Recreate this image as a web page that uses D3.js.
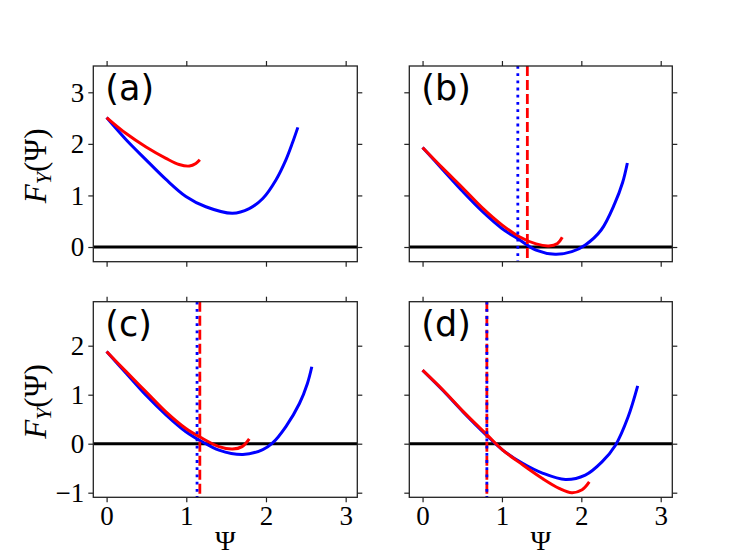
<!DOCTYPE html>
<html>
<head>
<meta charset="utf-8">
<script src="https://cdn.jsdelivr.net/npm/d3@7"></script>
<style>
  body { margin: 0; background: #fff; }
  svg { display: block; }
</style>
</head>
<body>
<div id="chart"></div>
<script>
// values
var xTicks = [0, 1, 2, 3];
var yTicksTop = [0, 1, 2, 3];
var yTicksBottom = [-1, 0, 1, 2];
var panelNames = ["(a)", "(b)", "(c)", "(d)"];

var aBlueX = [0, 0.245, 0.495, 0.745, 0.995, 1.245, 1.58, 1.79, 1.96, 2.125, 2.25, 2.33, 2.40];
var aBlueY = [2.51, 2.08, 1.69, 1.31, 0.98, 0.78, 0.655, 0.745, 0.94, 1.30, 1.69, 2.01, 2.32];
var aRedX = [0, 0.245, 0.495, 0.745, 0.91, 1.04, 1.12, 1.17];
var aRedY = [2.51, 2.20, 1.94, 1.72, 1.60, 1.57, 1.62, 1.69];

var bBlueX = [0, 0.26, 0.51, 0.76, 1.0, 1.22, 1.43, 1.67, 1.88, 2.05, 2.25, 2.42, 2.52, 2.58];
var bBlueY = [1.93, 1.49, 1.07, 0.68, 0.36, 0.14, -0.06, -0.14, -0.09, 0.04, 0.33, 0.84, 1.25, 1.63];
var bRedX = [0, 0.26, 0.51, 0.76, 1.0, 1.22, 1.43, 1.59, 1.70, 1.76];
var bRedY = [1.93, 1.52, 1.14, 0.75, 0.43, 0.20, 0.06, 0.02, 0.07, 0.19];

var cBlueX = [0, 0.245, 0.495, 0.745, 0.995, 1.2, 1.41, 1.71, 1.96, 2.08, 2.25, 2.42, 2.52, 2.575];
var cBlueY = [1.88, 1.44, 0.99, 0.59, 0.245, 0.04, -0.13, -0.22, -0.12, 0.01, 0.35, 0.82, 1.23, 1.57];
var cRedX = [0, 0.245, 0.495, 0.745, 0.995, 1.2, 1.41, 1.58, 1.70, 1.79];
var cRedY = [1.88, 1.47, 1.06, 0.65, 0.31, 0.11, -0.06, -0.11, -0.06, 0.10];

var dBlueX = [0, 0.26, 0.51, 0.80, 1.01, 1.26, 1.51, 1.80, 2.05, 2.26, 2.43, 2.59, 2.71];
var dBlueY = [1.50, 1.08, 0.65, 0.18, -0.13, -0.40, -0.60, -0.73, -0.64, -0.37, -0.03, 0.55, 1.18];
var dRedX = [0, 0.26, 0.51, 0.80, 1.01, 1.26, 1.51, 1.72, 1.88, 2.01, 2.10];
var dRedY = [1.50, 1.09, 0.66, 0.20, -0.13, -0.43, -0.71, -0.91, -1.0, -0.94, -0.78];

// vertical markers: [blue dotted, red dashed], none in (a)
var vBlue = [null, 1.20, 1.135, 0.81];
var vRed = [null, 1.32, 1.17, 0.81];

var W = 747, H = 560;
var svg = d3.select("#chart").append("svg")
  .attr("width", W).attr("height", H);

var cols = [{x0: 93.3, x1: 357.3}, {x0: 409.3, x1: 672.3}];
var rows = [
  {y0: 66, y1: 261.7, dom: [-0.285, 3.51], ticks: yTicksTop},
  {y0: 301.7, y1: 497.3, dom: [-1.094, 2.898], ticks: yTicksBottom}
];

var panels = [
  {blue: [aBlueX, aBlueY], red: [aRedX, aRedY]},
  {blue: [bBlueX, bBlueY], red: [bRedX, bRedY]},
  {blue: [cBlueX, cBlueY], red: [cRedX, cRedY]},
  {blue: [dBlueX, dBlueY], red: [dRedX, dRedY]}
];

var serif = "'Liberation Serif', 'DejaVu Serif', serif";

function pts(arr) {
  return arr[0].map(function(v, i) { return [v, arr[1][i]]; });
}

panels.forEach(function(p, i) {
  var r = rows[Math.floor(i / 2)], c = cols[i % 2];
  var x = d3.scaleLinear().domain([-0.167, 3.146]).range([c.x0, c.x1]);
  var y = d3.scaleLinear().domain(r.dom).range([r.y1, r.y0]);
  var g = svg.append("g");

  var clipId = "clip" + i;
  svg.append("clipPath").attr("id", clipId).append("rect")
    .attr("x", c.x0).attr("y", r.y0)
    .attr("width", c.x1 - c.x0).attr("height", r.y1 - r.y0);

  var plot = g.append("g").attr("clip-path", "url(#" + clipId + ")");

  // zero line
  plot.append("line")
    .attr("x1", c.x0).attr("x2", c.x1)
    .attr("y1", y(0)).attr("y2", y(0))
    .attr("stroke", "#000").attr("stroke-width", 3);

  var line = d3.line()
    .x(function(d) { return x(d[0]); })
    .y(function(d) { return y(d[1]); })
    .curve(d3.curveCatmullRom.alpha(0.5));

  plot.append("path").datum(pts(p.blue))
    .attr("fill", "none").attr("stroke", "#0000ff")
    .attr("stroke-width", 3).attr("d", line);
  plot.append("path").datum(pts(p.red))
    .attr("fill", "none").attr("stroke", "#ff0000")
    .attr("stroke-width", 3).attr("d", line);

  if (vRed[i] !== null) {
    plot.append("line")
      .attr("x1", x(vRed[i])).attr("x2", x(vRed[i]))
      .attr("y1", r.y0).attr("y2", r.y1)
      .attr("stroke", "#ff0000").attr("stroke-width", 2.8)
      .attr("stroke-dasharray", "10,4");
    plot.append("line")
      .attr("x1", x(vBlue[i])).attr("x2", x(vBlue[i]))
      .attr("y1", r.y0).attr("y2", r.y1)
      .attr("stroke", "#0000ff").attr("stroke-width", 2.8)
      .attr("stroke-dasharray", "2.8,4.4");
  }

  // axes: ticks outward on all sides
  var tl = 5;
  var bottom = g.append("g").attr("transform", "translate(0," + r.y1 + ")")
    .call(d3.axisBottom(x).tickValues(xTicks).tickSize(tl)
      .tickFormat(i >= 2 ? d3.format("d") : ""));
  var top = g.append("g").attr("transform", "translate(0," + r.y0 + ")")
    .call(d3.axisTop(x).tickValues(xTicks).tickSize(tl).tickFormat(""));
  var left = g.append("g").attr("transform", "translate(" + c.x0 + ",0)")
    .call(d3.axisLeft(y).tickValues(r.ticks).tickSize(tl)
      .tickFormat(i % 2 === 0 ? function(d) { return d < 0 ? "\u2212" + (-d) : d; } : ""));
  var right = g.append("g").attr("transform", "translate(" + c.x1 + ",0)")
    .call(d3.axisRight(y).tickValues(r.ticks).tickSize(tl).tickFormat(""));

  [bottom, top, left, right].forEach(function(a) {
    a.select(".domain").remove();
    a.selectAll(".tick line").attr("stroke", "#222").attr("stroke-width", 1.2);
    a.selectAll("text").attr("font-family", serif).attr("font-size", 27).attr("fill", "#000");
  });
  bottom.selectAll("text").attr("dy", "0.71em").attr("y", 9);
  left.selectAll("text").attr("x", -9).attr("dy", "0.33em");

  g.append("rect")
    .attr("x", c.x0).attr("y", r.y0)
    .attr("width", c.x1 - c.x0).attr("height", r.y1 - r.y0)
    .attr("fill", "none").attr("stroke", "#222").attr("stroke-width", 1.3);

  g.append("text")
    .attr("x", c.x0 + 12).attr("y", r.y0 + 34)
    .attr("font-family", "'DejaVu Sans', sans-serif")
    .attr("font-size", 35).attr("fill", "#000")
    .text(panelNames[i]);

  if (i >= 2) {
    g.append("text")
      .attr("x", (c.x0 + c.x1) / 2).attr("y", 550)
      .attr("text-anchor", "middle")
      .attr("font-family", serif).attr("font-size", 28)
      .text("\u03A8");
  }
  if (i % 2 === 0) {
    var yl = g.append("text")
      .attr("transform", "translate(46," + ((r.y0 + r.y1) / 2 + 2) + ") rotate(-90)")
      .attr("text-anchor", "middle")
      .attr("font-family", serif).attr("font-size", 31);
    yl.append("tspan").attr("font-style", "italic").text("F");
    yl.append("tspan").attr("font-style", "italic").attr("font-size", 22)
      .attr("dy", 5).text("Y");
    yl.append("tspan").attr("dy", -5).text("(\u03A8)");
  }
});
</script>
</body>
</html>
